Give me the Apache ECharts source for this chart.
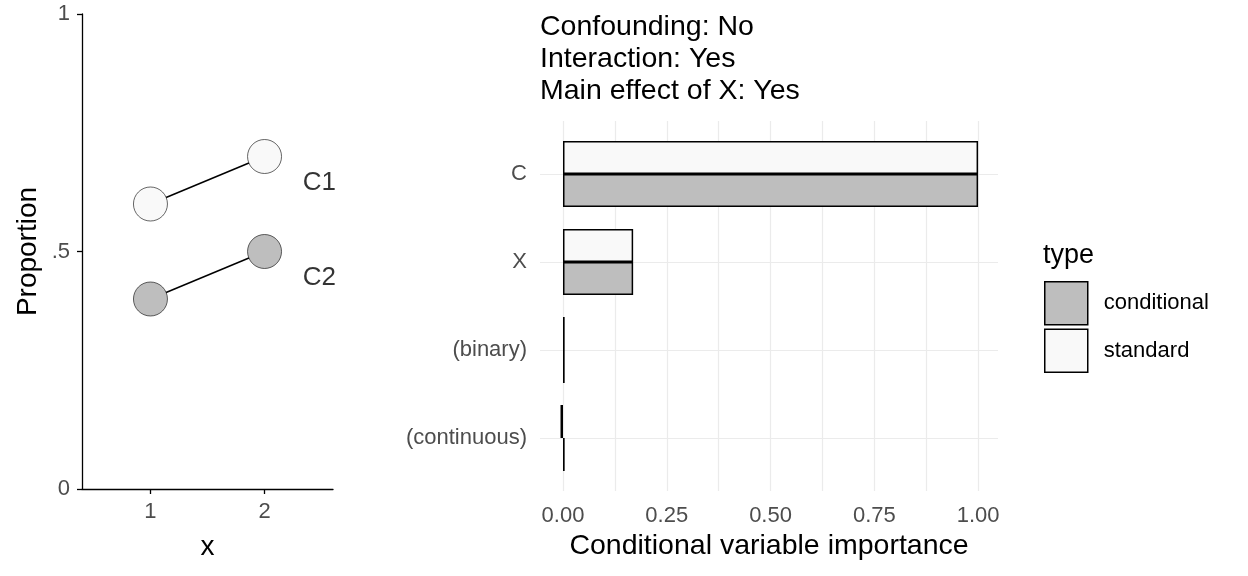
<!DOCTYPE html>
<html>
<head>
<meta charset="utf-8">
<script src="https://cdn.jsdelivr.net/npm/echarts@6/dist/echarts.min.js"></script>
<style>
  html, body { margin: 0; padding: 0; background: #fff; }
  #chart { width: 1248px; height: 576px; }
</style>
</head>
<body>
<div id="chart"></div>
<script>
// left panel: proportions by x for the two groups
const xValues = [1, 2]
const c1Values = [0.6, 0.7]
const c2Values = [0.4, 0.5]
const groupLabels = ['C1', 'C2']
const groupLabelPos = [[2.48, 0.645], [2.48, 0.445]]
const propTicks = [0, 0.5, 1]
const xTicks = [1, 2]

// right panel: importance per variable (bottom to top)
const variables = ['(continuous)', '(binary)', 'X', 'C']
const conditionalValues = [0.004, 0.004, 0.169, 1.0]
const standardValues = [-0.006, 0.004, 0.169, 1.0]
const importanceTicks = [0, 0.25, 0.5, 0.75, 1]
const importanceGrid = [0, 0.125, 0.25, 0.375, 0.5, 0.625, 0.75, 0.875, 1]
const rowGrid = [0, 1, 2, 3]

const titleLines = ['Confounding: No', 'Interaction: Yes', 'Main effect of X: Yes']

const FONT = 'Liberation Sans, Arial, sans-serif'
const GREY_TEXT = '#4d4d4d'
const COND_FILL = '#bebebe'
const STD_FILL = '#f9f9f9'

const chart = echarts.init(document.getElementById('chart'))

const option = {
  backgroundColor: '#FFFFFF',
  animation: false,
  textStyle: { fontFamily: FONT },
  title: [{
    text: titleLines.join('\n'),
    left: 540,
    top: 11,
    padding: 0,
    textStyle: { fontFamily: FONT, fontSize: 28.5, fontWeight: 'normal', color: '#000', lineHeight: 32 }
  }, {
    text: 'type',
    left: 1043,
    top: 241,
    padding: 0,
    textStyle: { fontFamily: FONT, fontSize: 27, fontWeight: 'normal', color: '#000', lineHeight: 30 }
  }],
  legend: {
    orient: 'vertical',
    left: 1044,
    top: 281,
    padding: 0,
    itemWidth: 43,
    itemHeight: 43,
    itemGap: 3,
    icon: 'rect',
    data: ['conditional', 'standard'],
    itemStyle: { borderColor: '#000', borderWidth: 1.5 },
    textStyle: { fontFamily: FONT, fontSize: 22, color: '#000', padding: [0, 0, 0, 11] }
  },
  grid: [
    { left: 82, top: 14, width: 251, bottom: 87 },      // left panel
    { left: 540, right: 250, top: 121, bottom: 85 },    // right panel background
    { left: 540, right: 250, top: 130, bottom: 94 }     // right panel bars
  ],
  xAxis: [{
    gridIndex: 0,
    type: 'value',
    min: 0.4,
    max: 2.6,
    name: 'x',
    nameLocation: 'middle',
    nameGap: 44,
    nameTextStyle: { fontFamily: FONT, fontSize: 28, color: '#000' },
    axisLine: { lineStyle: { color: '#000', width: 1.3 } },
    axisTick: { customValues: xTicks, length: 5, lineStyle: { color: '#000', width: 1.3 } },
    axisLabel: { customValues: xTicks, margin: 12, fontSize: 22, color: GREY_TEXT, fontFamily: FONT },
    splitLine: { show: false }
  }, {
    gridIndex: 1,
    type: 'value',
    min: -0.0554,
    max: 1.048,
    name: 'Conditional variable importance',
    nameLocation: 'middle',
    nameGap: 40,
    nameTextStyle: { fontFamily: FONT, fontSize: 28.5, color: '#000' },
    axisLine: { show: false },
    axisTick: { show: false, customValues: importanceGrid },
    axisLabel: {
      customValues: importanceTicks,
      margin: 14,
      fontSize: 22,
      color: GREY_TEXT,
      fontFamily: FONT,
      formatter: v => v.toFixed(2)
    },
    splitLine: { show: true, lineStyle: { color: '#ebebeb', width: 1.2 } }
  }, {
    gridIndex: 2,
    type: 'value',
    min: -0.0554,
    max: 1.048,
    show: false
  }],
  yAxis: [{
    gridIndex: 0,
    type: 'value',
    min: 0,
    max: 1,
    name: 'Proportion',
    nameLocation: 'middle',
    nameGap: 40,
    nameTextStyle: { fontFamily: FONT, fontSize: 28, color: '#000' },
    axisLine: { show: true, lineStyle: { color: '#000', width: 1.3 } },
    axisTick: { show: true, customValues: propTicks, length: 5, lineStyle: { color: '#000', width: 1.3 } },
    axisLabel: {
      customValues: propTicks,
      margin: 12,
      fontSize: 22,
      color: GREY_TEXT,
      fontFamily: FONT,
      formatter: v => (v === 0 ? '0' : v === 1 ? '1' : String(v).replace(/^0/, ''))
    },
    splitLine: { show: false }
  }, {
    gridIndex: 1,
    type: 'value',
    min: -0.6,
    max: 3.6,
    axisLine: { show: false },
    axisTick: { show: false, customValues: rowGrid },
    axisLabel: { show: false },
    splitLine: { show: true, lineStyle: { color: '#ebebeb', width: 1.2 } }
  }, {
    gridIndex: 2,
    type: 'category',
    data: variables,
    axisLine: { show: false },
    axisTick: { show: false },
    axisLabel: { margin: 13, fontSize: 22, color: GREY_TEXT, fontFamily: FONT },
    splitLine: { show: false }
  }],
  series: [{
    name: 'C1',
    type: 'line',
    xAxisIndex: 0,
    yAxisIndex: 0,
    data: xValues.map((x, i) => [x, c1Values[i]]),
    symbol: 'circle',
    symbolSize: 34,
    lineStyle: { color: '#000', width: 1.5 },
    itemStyle: { color: STD_FILL, borderColor: '#000', borderWidth: 0.6 },
    z: 3
  }, {
    name: 'C2',
    type: 'line',
    xAxisIndex: 0,
    yAxisIndex: 0,
    data: xValues.map((x, i) => [x, c2Values[i]]),
    symbol: 'circle',
    symbolSize: 34,
    lineStyle: { color: '#000', width: 1.5 },
    itemStyle: { color: COND_FILL, borderColor: '#000', borderWidth: 0.6 },
    z: 3
  }, {
    name: 'group labels',
    type: 'scatter',
    xAxisIndex: 0,
    yAxisIndex: 0,
    data: groupLabelPos.map((p, i) => ({ value: p, name: groupLabels[i] })),
    symbolSize: 1,
    itemStyle: { color: 'transparent' },
    label: {
      show: true,
      position: 'inside',
      formatter: p => p.name,
      fontFamily: FONT,
      fontSize: 26,
      color: '#000'
    },
    silent: true
  }, {
    // first bar series sits on top within each row
    name: 'standard',
    type: 'bar',
    xAxisIndex: 2,
    yAxisIndex: 2,
    data: standardValues,
    barWidth: 33,
    barGap: '0%',
    itemStyle: { color: STD_FILL, borderColor: '#000', borderWidth: 1.5 },
    z: 3
  }, {
    name: 'conditional',
    type: 'bar',
    xAxisIndex: 2,
    yAxisIndex: 2,
    data: conditionalValues,
    barWidth: 33,
    barGap: '0%',
    itemStyle: { color: COND_FILL, borderColor: '#000', borderWidth: 1.5 },
    z: 3
  }]
}

chart.setOption(option)
</script>
</body>
</html>
